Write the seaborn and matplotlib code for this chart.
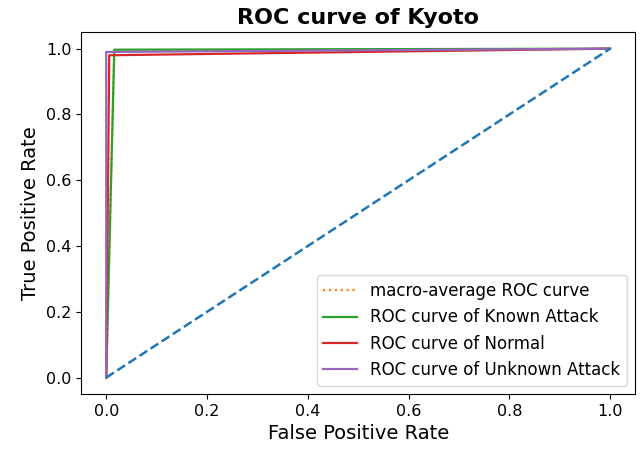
import matplotlib
matplotlib.use("Agg")
import matplotlib.pyplot as plt
import seaborn as sns
import pandas as pd

# Data
macro_fpr = [0.0, 0.016, 1.0]
macro_tpr = [0.0, 0.993, 1.0]
known_fpr = [0.0, 0.016, 1.0]
known_tpr = [0.0, 0.997, 1.0]
normal_fpr = [0.0, 0.006, 1.0]
normal_tpr = [0.0, 0.98, 1.0]
unknown_fpr = [0.0, 0.0, 1.0]
unknown_tpr = [0.0, 0.99, 1.0]
diag = [0.0, 1.0]

labels = ["macro-average ROC curve", "ROC curve of Known Attack",
          "ROC curve of Normal", "ROC curve of Unknown Attack"]

fig = plt.figure(figsize=(6.43, 4.54), dpi=100)
ax = fig.add_axes([0.126, 0.132, 0.862, 0.797])

def draw(fpr, tpr, label, color, ls):
    df = pd.DataFrame({"fpr": fpr, "tpr": tpr})
    sns.lineplot(data=df, x="fpr", y="tpr", sort=False, estimator=None,
                 color=color, linestyle=ls, linewidth=1.6, label=label, ax=ax)

draw(macro_fpr, macro_tpr, labels[0], "tab:orange", ":")
draw(known_fpr, known_tpr, labels[1], "tab:green", "-")
draw(normal_fpr, normal_tpr, labels[2], "tab:red", "-")
draw(unknown_fpr, unknown_tpr, labels[3], "tab:purple", "-")
dd = pd.DataFrame({"x": diag, "y": diag})
sns.lineplot(data=dd, x="x", y="y", sort=False, estimator=None,
             color="tab:blue", linestyle="--", linewidth=1.8, ax=ax)

ax.set_xlim(-0.05, 1.05)
ax.set_ylim(-0.05, 1.05)
ax.set_xlabel("False Positive Rate", fontsize=14)
ax.set_ylabel("True Positive Rate", fontsize=14)
ax.set_title("ROC curve of Kyoto", fontsize=16, fontweight="bold")
ax.tick_params(labelsize=11.5)
ax.legend(loc="lower right", fontsize=12)

fig.savefig("out.png", dpi=100)
